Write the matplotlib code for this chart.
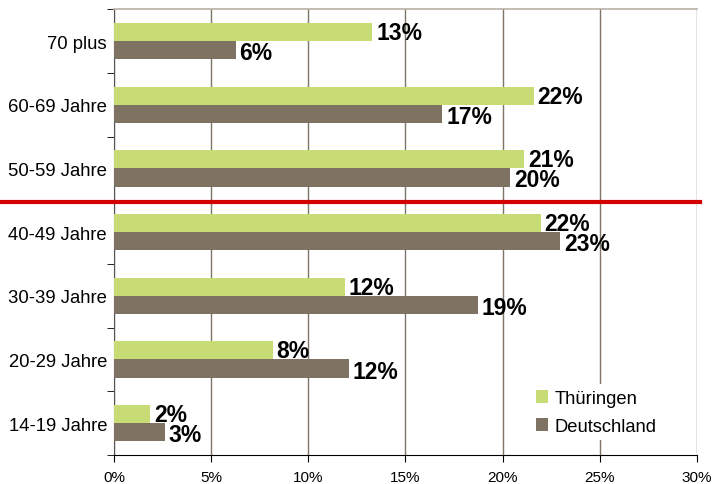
import matplotlib
matplotlib.use("Agg")
import matplotlib.pyplot as plt
import matplotlib.transforms as mtransforms
import numpy as np

plt.rcParams['font.family'] = ['Liberation Sans', 'DejaVu Sans']

# categories bottom -> top
categories = ['14-19 Jahre', '20-29 Jahre', '30-39 Jahre', '40-49 Jahre',
              '50-59 Jahre', '60-69 Jahre', '70 plus']
thueringen = [1.85, 8.17, 11.87, 21.96, 21.1, 21.6, 13.3]
deutschland = [2.61, 12.08, 18.73, 22.95, 20.4, 16.9, 6.26]
thue_labels = ['2%', '8%', '12%', '22%', '21%', '22%', '13%']
deut_labels = ['3%', '12%', '19%', '23%', '20%', '17%', '6%']
x_ticks = [0, 5, 10, 15, 20, 25, 30]

green = '#c8dc76'
brown = '#7e7263'
grid_col = '#7f7567'

fig = plt.figure(figsize=(7.17, 4.85), dpi=100)
ax = fig.add_axes([0.159, 0.06, 0.813, 0.919])

y = np.arange(len(categories))
h = 0.285
ax.barh(y + h / 2, thueringen, height=h, color=green, label='Thüringen', zorder=3)
ax.barh(y - h / 2, deutschland, height=h, color=brown, label='Deutschland', zorder=3)

for yi, v, t in zip(y, thueringen, thue_labels):
    ax.text(v + 0.2, yi + h / 2 - 0.01, t, va='center', ha='left', fontsize=16.5,
            fontweight='bold', zorder=4)
for yi, v, t in zip(y, deutschland, deut_labels):
    ax.text(v + 0.2, yi - h / 2 - 0.04, t, va='center', ha='left', fontsize=16.5,
            fontweight='bold', zorder=4)

ax.set_xlim(0, 30)
ax.set_ylim(-0.5, len(categories) - 0.5)
ax.set_xticks(x_ticks)
ax.set_xticklabels([f'{v}%' for v in x_ticks], fontsize=11)
ax.set_yticks(y)
ax.set_yticklabels(categories, fontsize=13.3)
ax.set_yticks(np.arange(-0.5, len(categories)), minor=True)
ax.tick_params(axis='y', which='major', length=0, pad=5)
ax.tick_params(axis='y', which='minor', length=5, direction='out', color='black')
ax.tick_params(axis='x', length=5, direction='out', color='black', pad=6)

ax.xaxis.grid(True, color=grid_col, linewidth=1.0, zorder=0)
ax.set_axisbelow(True)
ax.spines['top'].set_color('#b8b0a8')
ax.spines['top'].set_linewidth(1.2)
ax.spines['right'].set_visible(False)
ax.spines['left'].set_color('#555555')
ax.spines['bottom'].set_color('black')

# red separator line between 40-49 and 50-59
trans = mtransforms.blended_transform_factory(ax.transAxes, ax.transData)
ax.plot([-0.2, 1.006], [3.47, 3.47], color='#d40000', linewidth=3,
        transform=trans, clip_on=False, zorder=5)

leg = ax.legend(loc='lower right', bbox_to_anchor=(0.956, 0.012), fontsize=13.2,
                frameon=True, facecolor='white', edgecolor='none', framealpha=1,
                handlelength=0.65, handleheight=0.65, handletextpad=0.35,
                labelspacing=0.6, borderpad=0.3)
leg.set_zorder(6)

fig.savefig('out.png', dpi=100)
